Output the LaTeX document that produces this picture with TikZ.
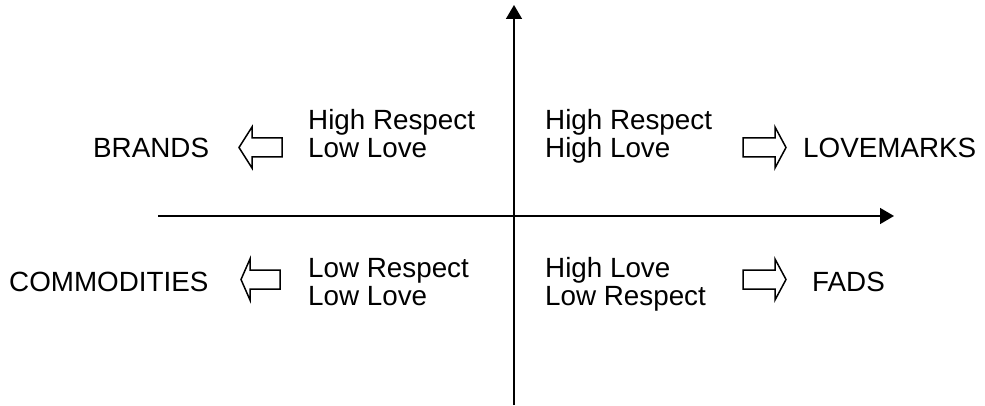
\documentclass[tikz,border=0pt]{standalone}
\usepackage{fontspec}
\setmainfont{Liberation Sans}
\usetikzlibrary{arrows.meta}
\begin{document}
\begin{tikzpicture}[x=1pt,y=-1pt,
  lbl/.style={anchor=base west,inner sep=0pt,font=\fontsize{27.8}{29}\selectfont},
  axis/.style={line width=1.6pt,-{Triangle[length=14pt,width=16pt]}},
  blockarrow/.style={draw=black,fill=white,line width=1.5pt,line join=miter}]
\useasboundingbox (0,0) rectangle (985,406);
% axes
\coordinate (xs) at (158,216);
\coordinate (xe) at (894,216);
\coordinate (ys) at (514,405);
\coordinate (ye) at (514,5);
\draw[axis] (xs) -- (xe);
\draw[axis] (ys) -- (ye);
% quadrant texts
\node[lbl] (tl1) at (308,130) {High Respect};
\node[lbl] (tl2) at (308,158) {Low Love};
\node[lbl] (tr1) at (545,130) {High Respect};
\node[lbl] (tr2) at (545,158) {High Love};
\node[lbl] (bl1) at (308,277) {Low Respect};
\node[lbl] (bl2) at (308,305.5) {Low Love};
\node[lbl] (br1) at (545,277) {High Love};
\node[lbl] (br2) at (545,305.5) {Low Respect};
% outcomes
\node[lbl] (brands) at (93,158) {BRANDS};
\node[lbl] (love) at (803,158) {LOVEMARKS};
\node[lbl] (comm) at (9,291) {COMMODITIES};
\node[lbl] (fads) at (812,291) {FADS};
% block arrows
\draw[blockarrow] (239,147.5) -- (252,127) -- (252,138) -- (282,138) -- (282,157) -- (252,157) -- (252,168) -- cycle;
\draw[blockarrow] (786,147.5) -- (775,127) -- (775,138) -- (743,138) -- (743,157) -- (775,157) -- (775,168) -- cycle;
\draw[blockarrow] (241,279.5) -- (250,259) -- (250,270) -- (280,270) -- (280,289) -- (250,289) -- (250,300) -- cycle;
\draw[blockarrow] (786,279.5) -- (775,259) -- (775,270) -- (743,270) -- (743,289) -- (775,289) -- (775,300) -- cycle;
\end{tikzpicture}
\end{document}
